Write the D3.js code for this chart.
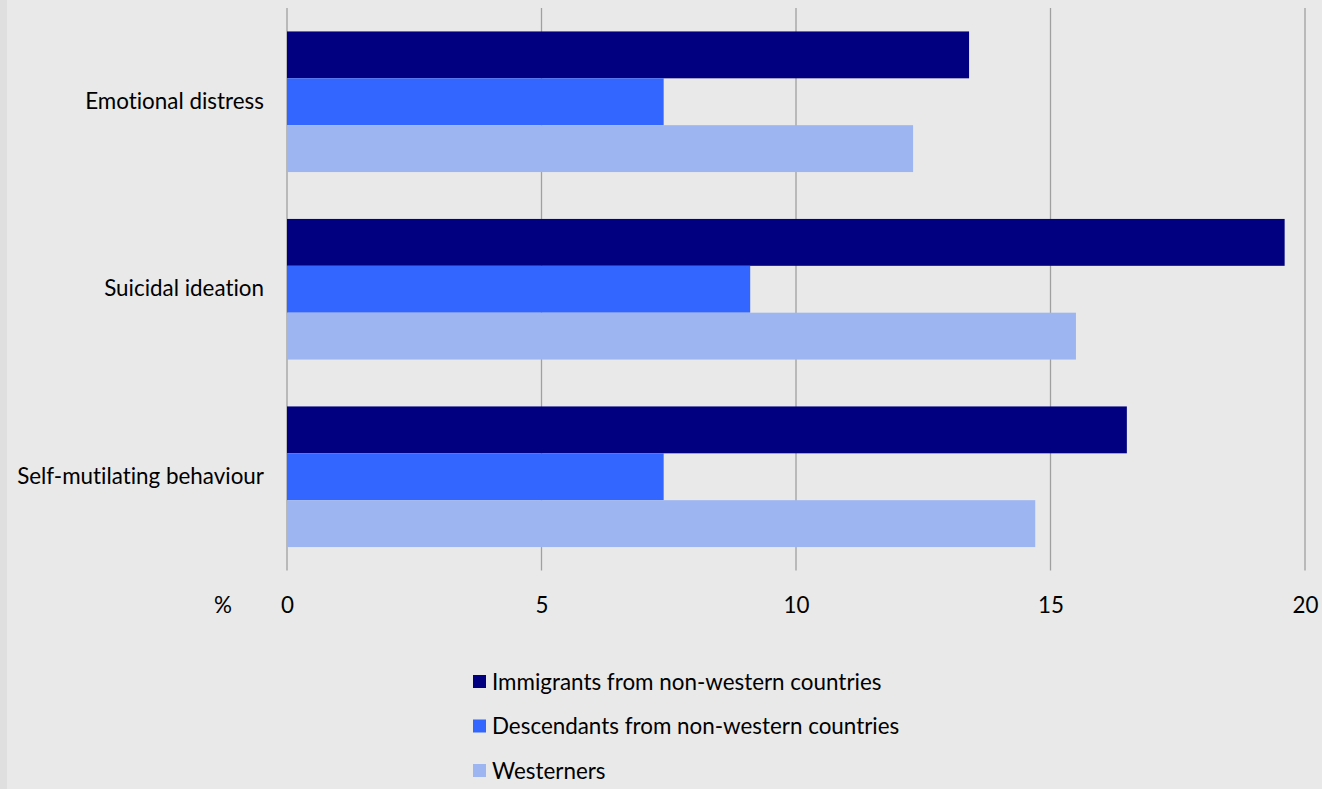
<!DOCTYPE html>
<html><head><meta charset="utf-8">
<script src="https://cdn.jsdelivr.net/npm/d3@7"></script>
<style>
html,body{margin:0;padding:0;background:#e9e9e9;}
svg{display:block;}
text{font-family:Lato,sans-serif;fill:#000;font-variant-ligatures:none;font-feature-settings:"liga" 0;}
</style></head>
<body>
<svg id="c" width="1322" height="789"></svg>
<script>
const categories = ["Emotional distress","Suicidal ideation","Self-mutilating behaviour"];
const seriesNames = ["Immigrants from non-western countries","Descendants from non-western countries","Westerners"];
const immigrants = [13.4, 19.6, 16.5];
const descendants = [7.4, 9.1, 7.4];
const westerners = [12.3, 15.5, 14.7];
const xTicks = [0,5,10,15,20];
const colors = ["#000080","#3366ff","#9db5f1"];

const FS = 22.4;
const seriesValues = [immigrants, descendants, westerners];
const svg = d3.select("#c");
svg.append("rect").attr("x",0).attr("y",0).attr("width",7).attr("height",789).attr("fill","#dfdfdf");

const x = d3.scaleLinear().domain([0,20]).range([287,1305]);
const y0 = d3.scaleBand().domain(categories).range([8,570.5]).paddingInner(0.25).paddingOuter(0.125);
const y1 = d3.scaleBand().domain(seriesNames).range([0,y0.bandwidth()]);

svg.append("g").selectAll("line").data(xTicks).join("line")
  .attr("x1",d=>x(d)).attr("x2",d=>x(d)).attr("y1",8).attr("y2",570.5)
  .attr("stroke","#a0a0a0").attr("stroke-width",1.3);

categories.forEach((c,ci)=>{
  svg.append("g").selectAll("rect").data(seriesNames).join("rect")
    .attr("x",x(0)).attr("y",s=>y0(c)+y1(s))
    .attr("width",(s,si)=>x(seriesValues[si][ci])-x(0))
    .attr("height",y1.bandwidth())
    .attr("fill",(s,si)=>colors[si]);
});

const xa = d3.axisBottom(x).tickValues(xTicks).tickSize(0).tickPadding(0);
const gx = svg.append("g").attr("transform","translate(0,605)").call(xa);
gx.select(".domain").remove();
gx.selectAll("text").attr("font-size",FS).attr("font-family","Lato,sans-serif").attr("fill","#000").attr("dy","0.35em");
svg.append("text").attr("x",223).attr("y",605).attr("dy","0.35em").attr("text-anchor","middle").attr("font-size",FS).text("%");

const ya = d3.axisLeft(y0).tickSize(0).tickPadding(0);
const gy = svg.append("g").attr("transform","translate(264,0)").call(ya);
gy.select(".domain").remove();
gy.selectAll("text").attr("font-size",FS).attr("font-family","Lato,sans-serif").attr("fill","#000");

const lg = svg.append("g");
seriesNames.forEach((s,i)=>{
  const ly = 682 + i*44.5;
  lg.append("rect").attr("x",473).attr("y",ly-7).attr("width",13).attr("height",13).attr("fill",colors[i]);
  lg.append("text").attr("x",492).attr("y",ly).attr("dy","0.35em").attr("font-size",FS).text(s);
});
</script>
</body></html>
